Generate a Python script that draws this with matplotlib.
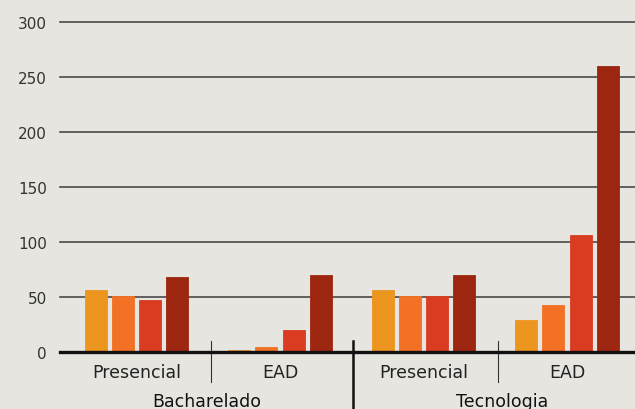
import matplotlib
matplotlib.use("Agg")
import matplotlib.pyplot as plt
import matplotlib.transforms as mtransforms
import numpy as np

groups = ["Bacharelado", "Tecnologia"]
modes = ["Presencial", "EAD"]
series_colors = ["#EC951F", "#F37124", "#DA3C22", "#9D2610"]
# values per subgroup (Bach-Presencial, Bach-EAD, Tec-Presencial, Tec-EAD), 4 series each
s1 = [56, 2, 56, 29]
s2 = [51, 5, 51, 43]
s3 = [47, 20, 51, 106]
s4 = [68, 70, 70, 260]
series = [s1, s2, s3, s4]
yticks = [0, 50, 100, 150, 200, 250, 300]

bg = "#E6E5DF"
fig = plt.figure(figsize=(6.35, 4.10), dpi=100, facecolor=bg)
ax = fig.add_axes([60/635, 57/410, 575/635, 330/410], facecolor=bg)

x = np.arange(4)
bw = 0.153
step = 0.19
for i, vals in enumerate(series):
    ax.bar(x + (i - 1.5) * step, vals, width=bw, color=series_colors[i],
           edgecolor=series_colors[i], linewidth=0.6, zorder=3)

ax.set_xlim(-0.533, 3.474)
ax.set_ylim(0, 300)
ax.set_yticks(yticks)
ax.set_yticklabels([str(v) for v in yticks], fontsize=11, color="#333333")
ax.tick_params(axis="y", length=0, pad=9.5)
ax.tick_params(axis="x", length=0)
ax.set_xticks([])
for v in yticks[1:]:
    ax.axhline(v, color="#4a4a4a", linewidth=1.2, zorder=1, clip_on=False)
for s in ax.spines.values():
    s.set_visible(False)
ax.axhline(0, color="#111111", linewidth=2.4, zorder=4, clip_on=False)

trans = mtransforms.blended_transform_factory(ax.transData, ax.transAxes)
# subgroup labels
for i in range(4):
    ax.text(x[i], -0.062, modes[i % 2], transform=trans, ha="center", va="center",
            fontsize=12.5, color="#222222")
# group labels
for g, gx in enumerate([0.49, 2.55]):
    ax.text(gx, -0.15, groups[g], transform=trans, ha="center", va="center",
            fontsize=12.5, color="#111111")
# separators
for xs in [0.52, 2.52]:
    ax.plot([xs, xs], [0.033, -0.091], transform=trans, color="#333333",
            linewidth=0.8, clip_on=False)
ax.plot([1.51, 1.51], [0.033, -0.25], transform=trans, color="#111111",
        linewidth=1.8, clip_on=False)

fig.savefig("out.png", dpi=100, facecolor=bg)
